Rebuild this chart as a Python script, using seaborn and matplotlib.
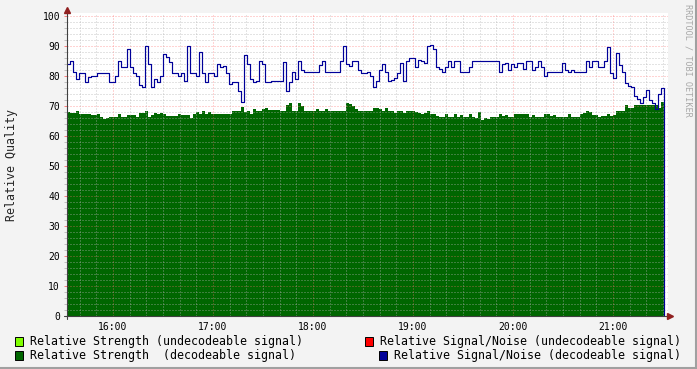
import matplotlib
matplotlib.use("Agg")
import numpy as np
import pandas as pd
import seaborn as sns
import matplotlib.pyplot as plt
import matplotlib.dates as mdates
from matplotlib.ticker import MultipleLocator
from matplotlib.patches import Rectangle
from matplotlib.lines import Line2D

# ---------------- data ----------------
start_time = "2024-01-01 15:32:24"
step = "108s"

snr_decodeable = [
    84, 85, 81.5, 79, 81, 81, 78, 79.6, 80, 80, 81, 81, 81, 81, 78, 78, 80, 85, 83, 83,
    89, 83, 81, 80, 77, 76.5, 90, 84, 76.5, 79, 78, 80, 87.5,
    86.5, 84.8, 81, 81, 80, 81, 78.5, 90, 81, 81, 80, 88, 81, 78, 81, 81, 80, 84, 83, 83.5,
    81, 77.5, 78, 78, 75, 71.5, 87, 84, 79, 78, 78.5, 85, 84, 78,
    78, 78.2, 78.2, 78.2, 78.2, 84.7, 75, 78, 81.2, 79, 85, 82, 81.2, 81.2, 81.2, 81.2,
    81.2, 83.6, 85, 81.5, 81.2, 81.2, 81.2, 81.2, 85, 90, 84, 83.3, 85, 85, 82, 81, 81,
    81.5, 80, 76.5, 78.5, 82, 84, 81.2, 78.5, 78.8, 79.5, 81, 84.4, 78.5, 85, 86, 86, 83,
    85.3, 85, 84.5, 90, 90.2, 89, 83, 82.5, 81.5, 83, 85, 83, 85, 85, 81.5, 81.2, 81.2,
    83, 85.1, 85.1, 85.1, 85.1, 85.1, 85.1, 85.1, 85.1, 85.1, 81.2, 84, 84.5, 82, 84, 83,
    84.4, 84.4, 82.5, 85, 85, 82, 83, 85, 83, 80, 81.2, 81.2, 81.2, 81.2, 81.2, 84.5, 82,
    81.2, 82, 81.2, 81.2, 81.2, 81.2, 85, 83, 85, 85, 83, 83, 85, 89.6, 81, 79.5, 87.8,
    83.7, 81.2, 77.6, 76.7, 76.5, 73.5, 72.5, 71.1, 73, 75.5, 72, 71.1, 69, 74, 76,
    0,
]

strength_decodeable = [
    68, 67.8, 67.8, 68.2, 67.5, 67.5, 67.2, 67.2, 67, 67, 67.2, 66.2, 65.6, 66, 66.2, 66.2,
    66.4, 67.2, 66.2, 66.2, 67, 67, 67, 66.4, 67.8, 67.6, 68.3, 66.4, 67, 67.8, 67.2, 67.8, 67.5,
    66.7, 66.7, 66.7, 66.7, 67.3, 67, 67, 67, 66, 67.3, 68, 67.5, 68.3, 67.3, 68, 67.5, 67.5,
    67.5, 67.5, 67.5, 67.5, 67.5, 68.3, 68.3, 68.5, 69.6, 68, 68.5, 67.5, 69, 68.3, 68.5, 69, 69.3,
    68.8, 68.8, 68.8, 68.8, 68.3, 68.3, 70.5, 71, 68.3, 68.5, 71, 70, 68.5, 68.3, 68.3, 68.3,
    69, 68.3, 68.3, 69, 68.3, 68.3, 68.3, 68.3, 68.3, 68.3, 70.9, 70.8, 70, 69, 68.3, 68.3, 68.3,
    68.3, 68.3, 69.3, 69.3, 69, 68.5, 69.3, 68.3, 68.3, 67.8, 68.3, 68.3, 67.6, 68.3, 68.3,
    68.3, 68, 67.8, 67.5, 67.8, 68.3, 67.3, 67.3, 66.8, 66.4, 66.4, 67.3, 66.4, 66.4, 67.3,
    66.4, 67, 66.4, 66.4,
    67.5, 66.5, 65.9, 68, 65.5, 66, 65.6, 66.2, 66.2, 66.2, 67.3, 66.8, 67, 66.5, 66.2, 67.3,
    67.3, 67.5, 67.3, 67.3, 66.2, 67, 66.2, 66.2, 66.5, 67.3, 67.3, 66.8, 67, 66.2, 66.2, 66.2, 66.2,
    67.3, 66.5, 66.2, 66.5, 67.5, 67.8, 68.3, 68, 67, 67, 66.2, 66.7, 66.8, 67.3, 66.7, 67,
    68.3, 68.3, 68.3, 70.3, 69.2, 69.5, 70.5, 70.3, 70.3, 70.3, 70.3, 70.3, 70.5, 70.3, 69.5, 71.3,
    71.3,
]

legend_labels = [
    "Relative Strength (undecodeable signal)",
    "Relative Signal/Noise (undecodeable signal)",
    "Relative Strength  (decodeable signal)",
    "Relative Signal/Noise (decodeable signal)",
]
legend_colors = ["#80FF00", "#FF0000", "#006600", "#000099"]
y_label = "Relative Quality"
credit = "RRDTOOL / TOBI OETIKER"
x_end = "2024-01-01 21:33:00"

# ---------------- figure ----------------
sns.set_style("white")
plt.rcParams["font.family"] = ["DejaVu Sans Mono", "DejaVu Sans"]

W, H = 697, 369
fig = plt.figure(figsize=(W / 100, H / 100), dpi=100, facecolor="#F3F3F3")


def fx(px):
    return px / W


def fy(py):
    return 1 - py / H


ax = fig.add_axes([fx(67), fy(316), fx(668) - fx(67), fy(13) - fy(316)])
ax.set_facecolor("white")

times = pd.date_range(start_time, periods=len(snr_decodeable), freq=step)
df = pd.DataFrame({"time": times, "strength": strength_decodeable, "snr": snr_decodeable})

ax.fill_between(df["time"].values, 0, df["strength"].values, step="post",
                color="#006600", lw=0, zorder=1)
sns.lineplot(data=df, x="time", y="snr", drawstyle="steps-post", color="#000099",
             lw=0.85, estimator=None, ax=ax, zorder=3)

ax.set_xlim(pd.Timestamp(start_time), pd.Timestamp(x_end))
ax.set_ylim(0, 101)
ax.set_xlabel("")
ax.set_ylabel("")

ax.xaxis.set_major_locator(mdates.HourLocator())
ax.xaxis.set_major_formatter(mdates.DateFormatter("%H:%M"))
ax.xaxis.set_minor_locator(mdates.MinuteLocator(byminute=range(0, 60, 10)))
ax.yaxis.set_major_locator(MultipleLocator(10))
ax.yaxis.set_minor_locator(MultipleLocator(2))

ax.set_axisbelow(False)
ax.grid(True, which="minor", color="#B0B0B0", alpha=0.7, lw=0.72, ls=(0, (1, 2)))
ax.grid(True, which="major", color="#FF7070", alpha=0.6, lw=0.72, ls=(0, (1, 2)))

for s in ax.spines.values():
    s.set_visible(False)

ax.tick_params(axis="y", which="major", length=2.2, width=0.72, color="#FF8080",
               direction="out", pad=2.8, labelsize=7, labelcolor="black", left=True)
ax.tick_params(axis="y", which="minor", length=2.2, width=0.72, color="#C0C0C0",
               direction="out", left=True)
ax.tick_params(axis="x", which="both", length=0, pad=4, labelsize=7, labelcolor="black")

# axis lines with arrows (RRDtool style)
axis_col = "#404040"
fig.add_artist(Line2D([fx(67), fx(67)], [fy(319), fy(12)], color=axis_col, lw=0.8))
fig.add_artist(Line2D([fx(64), fx(669)], [fy(316), fy(316)], color=axis_col, lw=0.8))
fig.add_artist(Line2D([fx(67)], [fy(10)], marker="^", markersize=4.5, color="#902020", lw=0))
fig.add_artist(Line2D([fx(670)], [fy(316)], marker=">", markersize=4.5, color="#902020", lw=0))

# y label and credit
fig.text(fx(12), fy(165), y_label, rotation=90, va="center", ha="center", fontsize=8.35)
fig.text(fx(688), fy(4), credit, rotation=270, va="top", ha="center", fontsize=6.1,
         color="#A8A8A8")

# legend
legend_pos = [(15, 30, 341.5), (365, 380, 341.5), (15, 30, 355.5), (379, 394, 355.5)]
for (sx, tx, cy), lab, col in zip(legend_pos, legend_labels, legend_colors):
    fig.add_artist(Rectangle((fx(sx), fy(cy + 4.5)), 8 / W, 9 / H, transform=fig.transFigure,
                             facecolor=col, edgecolor="black", lw=0.7))
    fig.text(fx(tx), fy(cy), lab, va="center", ha="left", fontsize=8.37, color="black")

# frame shading
fig.add_artist(Line2D([0, 1], [fy(368), fy(368)], color="#A0A0A0", lw=1.5))
fig.add_artist(Line2D([fx(696), fx(696)], [0, 1], color="#A0A0A0", lw=1.5))

fig.savefig("out.png", dpi=100, facecolor=fig.get_facecolor())
